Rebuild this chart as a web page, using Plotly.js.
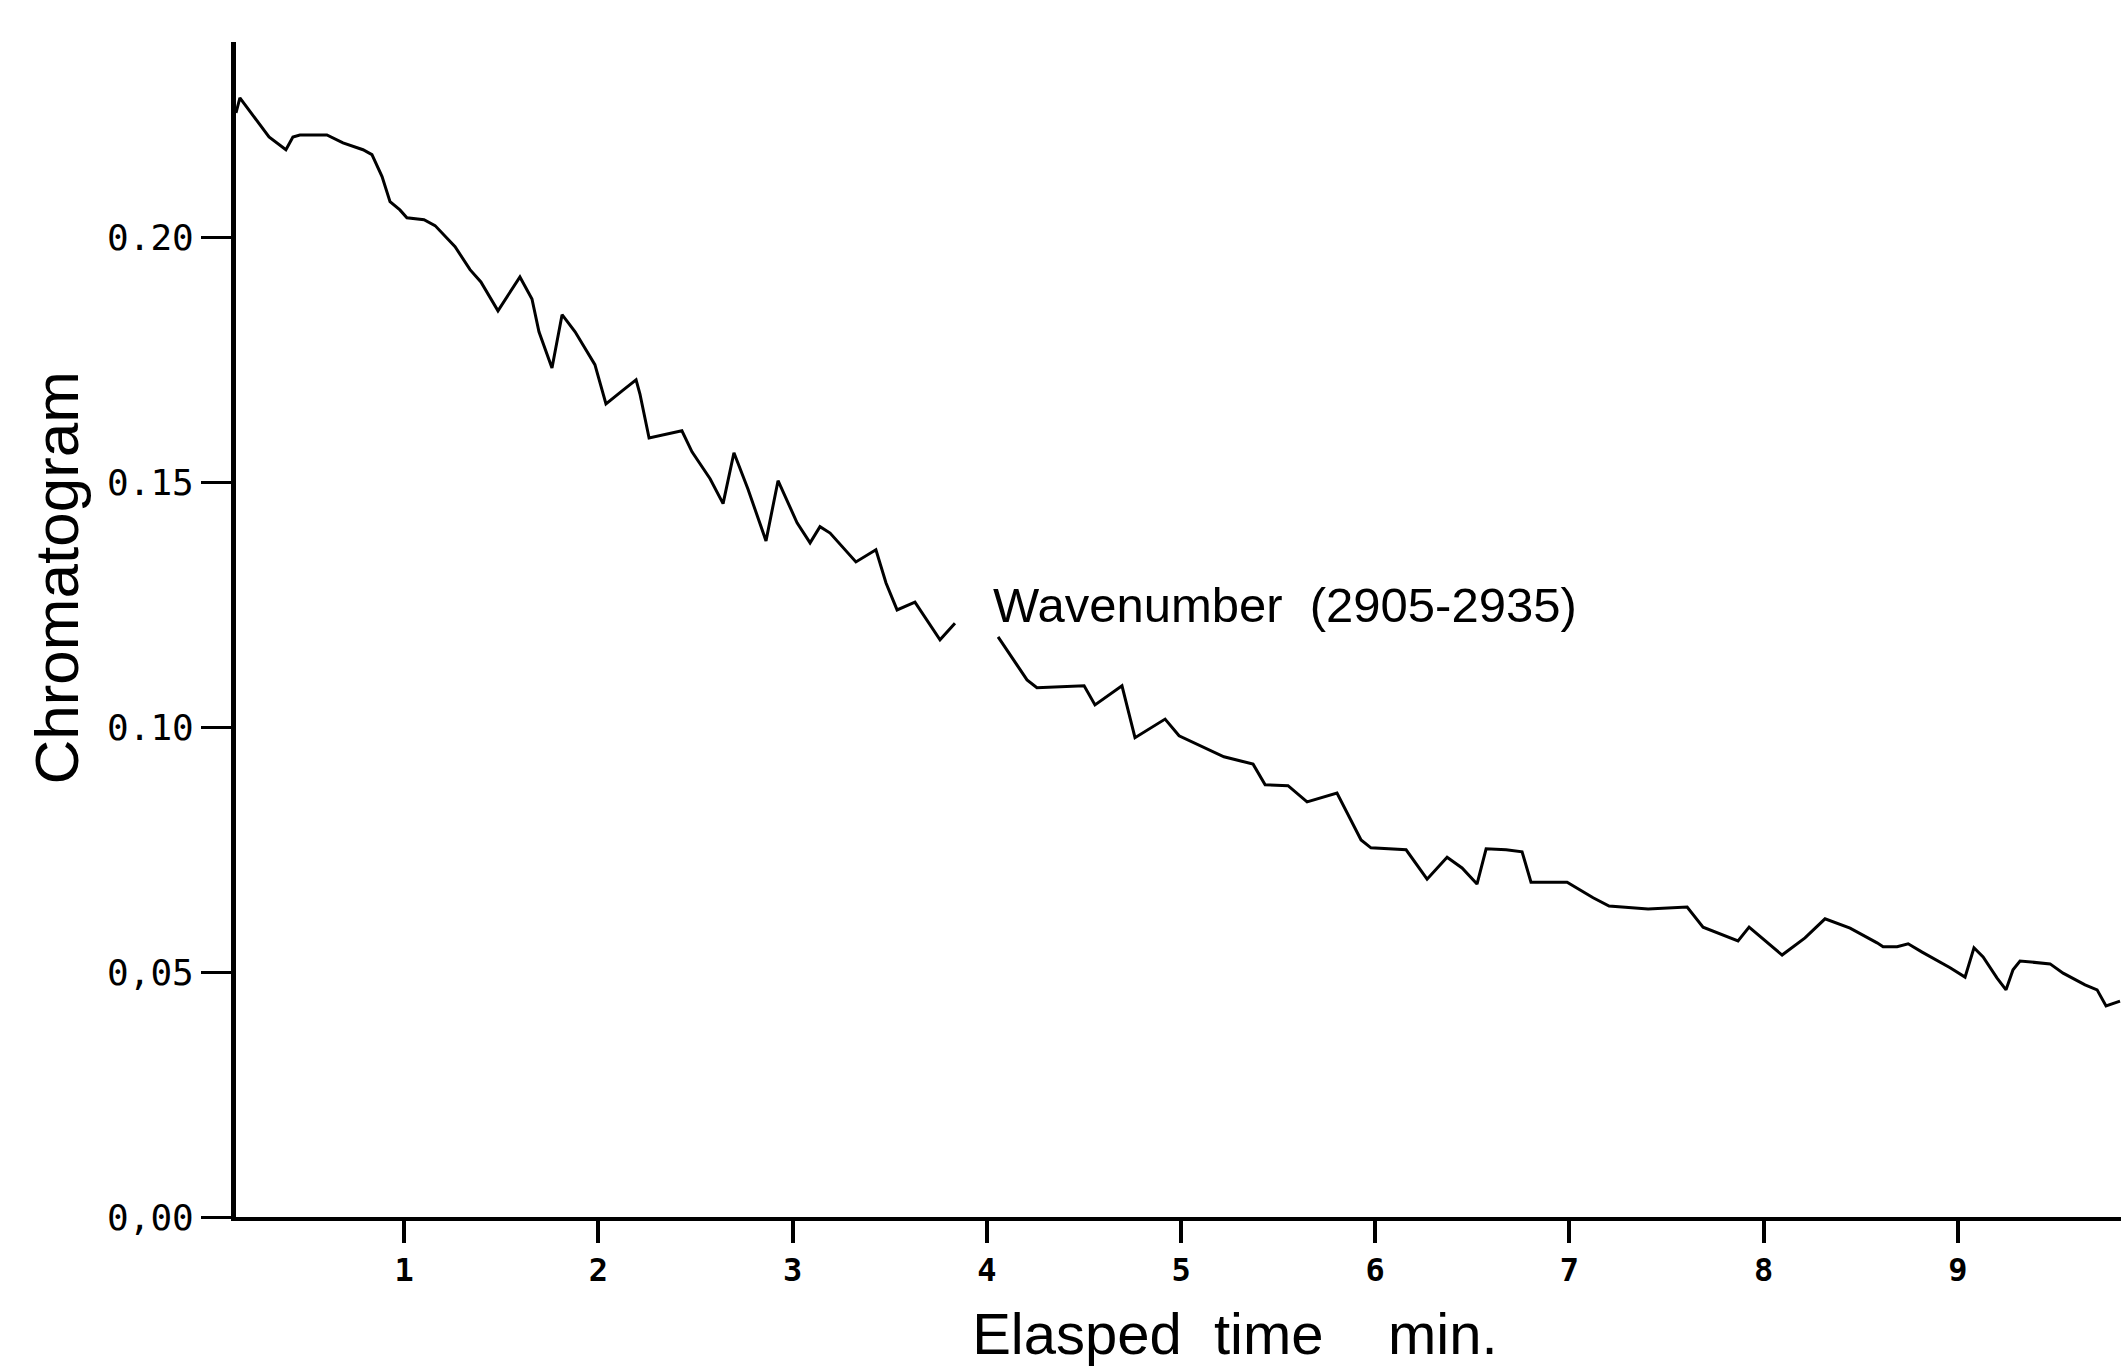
<!DOCTYPE html>
<html>
<head>
<meta charset="utf-8">
<script src="https://cdn.plot.ly/plotly-3.0.1.min.js"></script>
<style>
  html, body { margin: 0; padding: 0; background: #ffffff; }
  #chart { width: 2121px; height: 1366px; }
</style>
</head>
<body>
<div id="chart"></div>
<script>
// Elapsed time (min)
const elapsedTime = [
  0.134, 0.154, 0.304, 0.391, 0.427, 0.463, 0.602, 0.685, 0.788, 0.834,
  0.886, 0.927, 0.978, 1.014, 1.102, 1.159, 1.262, 1.339, 1.395, 1.483,
  1.596, 1.658, 1.694, 1.761, 1.813, 1.880, 1.982, 2.039, 2.127, 2.194,
  2.214, 2.261, 2.430, 2.482, 2.575, 2.642, 2.698, 2.770, 2.863, 2.925,
  3.023, 3.090, 3.141, 3.193, 3.326, 3.429, 3.481, 3.538, 3.630, 3.759,
  3.836, 3.950, 4.058, 4.207, 4.258, 4.501, 4.557, 4.696, 4.763, 4.918,
  4.990, 5.221, 5.371, 5.433, 5.551, 5.649, 5.803, 5.927, 5.978, 6.159,
  6.267, 6.370, 6.447, 6.524, 6.571, 6.674, 6.756, 6.802, 6.988, 7.122,
  7.204, 7.405, 7.606, 7.688, 7.868, 7.925, 8.095, 8.213, 8.316, 8.445,
  8.584, 8.615, 8.687, 8.744, 8.816, 8.960, 9.037, 9.083, 9.130, 9.202,
  9.248, 9.284, 9.320, 9.475, 9.542, 9.655, 9.717, 9.763, 9.835
];
// Chromatogram intensity, wavenumber 2905-2935 (null = gap in the trace under the label)
const chromatogram = [
  0.2255, 0.2286, 0.2206, 0.2180, 0.2206, 0.2210, 0.2210, 0.2194, 0.2180, 0.2170,
  0.2125, 0.2074, 0.2057, 0.2041, 0.2037, 0.2025, 0.1982, 0.1935, 0.1910, 0.1851,
  0.1920, 0.1875, 0.1808, 0.1734, 0.1843, 0.1808, 0.1741, 0.1661, 0.1689, 0.1710,
  0.1681, 0.1591, 0.1606, 0.1563, 0.1508, 0.1457, 0.1561, 0.1487, 0.1381, 0.1504,
  0.1418, 0.1377, 0.1410, 0.1397, 0.1338, 0.1363, 0.1295, 0.1240, 0.1256, 0.1179,
  0.1213, null,   0.1185, 0.1097, 0.1081, 0.1085, 0.1046, 0.1085, 0.0979, 0.1017,
  0.0983, 0.0940, 0.0925, 0.0883, 0.0881, 0.0848, 0.0866, 0.0770, 0.0754, 0.0750,
  0.0690, 0.0735, 0.0713, 0.0680, 0.0752, 0.0750, 0.0746, 0.0684, 0.0684, 0.0652,
  0.0635, 0.0629, 0.0633, 0.0592, 0.0564, 0.0592, 0.0535, 0.0570, 0.0609, 0.0590,
  0.0560, 0.0552, 0.0552, 0.0558, 0.0541, 0.0509, 0.0490, 0.0550, 0.0531, 0.0488,
  0.0464, 0.0505, 0.0523, 0.0517, 0.0498, 0.0474, 0.0464, 0.0431, 0.0441
];
const xTickValues = [1, 2, 3, 4, 5, 6, 7, 8, 9];
const xTickLabels = ['1', '2', '3', '4', '5', '6', '7', '8', '9'];
const yTickValues = [0, 0.05, 0.10, 0.15, 0.20];
const yTickLabels = ['0,00', '0,05', '0.10', '0.15', '0.20'];
const seriesLabel = 'Wavenumber  (2905-2935)';
const xTitle = 'Elasped  time    min.';
const yTitle = 'Chromatogram';

const nb = n => '&nbsp;'.repeat(n);

const trace = {
  type: 'scatter',
  mode: 'lines',
  x: elapsedTime,
  y: chromatogram,
  connectgaps: false,
  line: { color: '#000000', width: 3 },
  name: seriesLabel,
  hoverinfo: 'x+y'
};

const layout = {
  width: 2121,
  height: 1366,
  paper_bgcolor: '#ffffff',
  plot_bgcolor: '#ffffff',
  showlegend: false,
  margin: { l: 236, r: 0, t: 42, b: 149, pad: 0 },
  font: { family: 'Liberation Sans, Arial, sans-serif', color: '#000000' },
  xaxis: {
    range: [0.134, 9.84],
    tickmode: 'array',
    tickvals: xTickValues,
    ticktext: xTickLabels,
    ticks: 'outside',
    ticklen: 22,
    tickwidth: 4,
    tickcolor: '#000000',
    showline: true,
    linewidth: 4,
    linecolor: '#000000',
    showgrid: false,
    zeroline: false,
    tickfont: { family: 'DejaVu Sans Mono, monospace', size: 32, weight: 'bold', color: '#000000' },
    title: {
      text: nb(7) + xTitle.replace(/ /g, '&nbsp;'),
      font: { family: 'Liberation Sans, Arial, sans-serif', size: 58, color: '#000000' },
      standoff: 26
    }
  },
  yaxis: {
    range: [0, 0.24],
    tickmode: 'array',
    tickvals: yTickValues,
    ticktext: yTickLabels,
    ticks: 'outside',
    ticklen: 30,
    tickwidth: 3,
    tickcolor: '#000000',
    showline: true,
    linewidth: 5,
    linecolor: '#000000',
    showgrid: false,
    zeroline: false,
    tickfont: { family: 'DejaVu Sans Mono, monospace', size: 36, color: '#000000' },
    title: {
      text: nb(6) + yTitle,
      font: { family: 'Liberation Sans, Arial, sans-serif', size: 62, color: '#000000' },
      standoff: 10
    }
  },
  annotations: [
    {
      x: 4.02,
      y: 0.1250,
      xref: 'x',
      yref: 'y',
      text: seriesLabel.replace(/ /g, '&nbsp;'),
      showarrow: false,
      xanchor: 'left',
      yanchor: 'middle',
      font: { family: 'Liberation Sans, Arial, sans-serif', size: 49, color: '#000000' }
    }
  ]
};

Plotly.newPlot('chart', [trace], layout, { displayModeBar: false, staticPlot: true });
</script>
</body>
</html>
